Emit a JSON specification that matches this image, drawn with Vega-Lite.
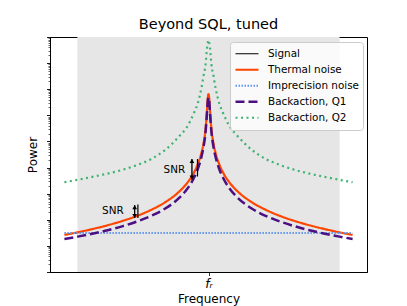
{
  "$schema": "https://vega.github.io/schema/vega-lite/v6.json",
  "width": 317,
  "height": 235,
  "autosize": "none",
  "padding": {"left": 50, "top": 37, "right": 40, "bottom": 34},
  "background": "white",
  "title": {"text": "Beyond SQL, tuned", "fontSize": 14.5, "font": "DejaVu Sans", "fontWeight": "normal", "offset": 4, "color": "black"},
  "config": {
    "view": {"stroke": "black", "strokeWidth": 1},
    "font": "DejaVu Sans",
    "axis": {"grid": false, "domainColor": "black", "domainWidth": 1, "tickColor": "black", "labelColor": "black", "titleColor": "black", "titleFontWeight": "normal", "titleFontSize": 12, "titleFont": "DejaVu Sans", "labelFont": "DejaVu Sans"}
  },
  "datasets": {
    "curves": [
      {"f": -1, "P": 26.2, "series": "Thermal noise"},
      {"f": -0.9, "P": 33.8, "series": "Thermal noise"},
      {"f": -0.8, "P": 44.9, "series": "Thermal noise"},
      {"f": -0.7, "P": 61.8, "series": "Thermal noise"},
      {"f": -0.6, "P": 89.3, "series": "Thermal noise"},
      {"f": -0.5, "P": 138, "series": "Thermal noise"},
      {"f": -0.4, "P": 237, "series": "Thermal noise"},
      {"f": -0.3, "P": 472, "series": "Thermal noise"},
      {"f": -0.2, "P": 1250, "series": "Thermal noise"},
      {"f": -0.15, "P": 2490, "series": "Thermal noise"},
      {"f": -0.1, "P": 6590, "series": "Thermal noise"},
      {"f": -0.075, "P": 13150, "series": "Thermal noise"},
      {"f": -0.05, "P": 34750, "series": "Thermal noise"},
      {"f": -0.035, "P": 81850, "series": "Thermal noise"},
      {"f": -0.02, "P": 314100, "series": "Thermal noise"},
      {"f": -0.01, "P": 1656000, "series": "Thermal noise"},
      {"f": -0.005, "P": 4467000, "series": "Thermal noise"},
      {"f": 0, "P": 6457000, "series": "Thermal noise"},
      {"f": 0.005, "P": 4467000, "series": "Thermal noise"},
      {"f": 0.01, "P": 1656000, "series": "Thermal noise"},
      {"f": 0.02, "P": 314100, "series": "Thermal noise"},
      {"f": 0.035, "P": 81850, "series": "Thermal noise"},
      {"f": 0.05, "P": 34750, "series": "Thermal noise"},
      {"f": 0.075, "P": 13150, "series": "Thermal noise"},
      {"f": 0.1, "P": 6590, "series": "Thermal noise"},
      {"f": 0.15, "P": 2490, "series": "Thermal noise"},
      {"f": 0.2, "P": 1250, "series": "Thermal noise"},
      {"f": 0.3, "P": 472, "series": "Thermal noise"},
      {"f": 0.4, "P": 237, "series": "Thermal noise"},
      {"f": 0.5, "P": 138, "series": "Thermal noise"},
      {"f": 0.6, "P": 89.3, "series": "Thermal noise"},
      {"f": 0.7, "P": 61.8, "series": "Thermal noise"},
      {"f": 0.8, "P": 44.9, "series": "Thermal noise"},
      {"f": 0.9, "P": 33.8, "series": "Thermal noise"},
      {"f": 1, "P": 26.2, "series": "Thermal noise"},
      {"f": -1, "P": 31.3, "series": "Imprecision noise"},
      {"f": 1, "P": 31.3, "series": "Imprecision noise"},
      {"f": -1, "P": 18.45, "series": "Backaction, Q1"},
      {"f": -0.9, "P": 23.1, "series": "Backaction, Q1"},
      {"f": -0.8, "P": 29.9, "series": "Backaction, Q1"},
      {"f": -0.7, "P": 39.7, "series": "Backaction, Q1"},
      {"f": -0.6, "P": 56.0, "series": "Backaction, Q1"},
      {"f": -0.5, "P": 84.3, "series": "Backaction, Q1"},
      {"f": -0.4, "P": 139.3, "series": "Backaction, Q1"},
      {"f": -0.3, "P": 270, "series": "Backaction, Q1"},
      {"f": -0.2, "P": 716, "series": "Backaction, Q1"},
      {"f": -0.15, "P": 1466, "series": "Backaction, Q1"},
      {"f": -0.1, "P": 4130, "series": "Backaction, Q1"},
      {"f": -0.075, "P": 8610, "series": "Backaction, Q1"},
      {"f": -0.05, "P": 24430, "series": "Backaction, Q1"},
      {"f": -0.035, "P": 60120, "series": "Backaction, Q1"},
      {"f": -0.02, "P": 241000, "series": "Backaction, Q1"},
      {"f": -0.01, "P": 1327000, "series": "Backaction, Q1"},
      {"f": -0.005, "P": 3548000, "series": "Backaction, Q1"},
      {"f": 0, "P": 4786000, "series": "Backaction, Q1"},
      {"f": 0.005, "P": 3548000, "series": "Backaction, Q1"},
      {"f": 0.01, "P": 1327000, "series": "Backaction, Q1"},
      {"f": 0.02, "P": 241000, "series": "Backaction, Q1"},
      {"f": 0.035, "P": 60120, "series": "Backaction, Q1"},
      {"f": 0.05, "P": 24430, "series": "Backaction, Q1"},
      {"f": 0.075, "P": 8610, "series": "Backaction, Q1"},
      {"f": 0.1, "P": 4130, "series": "Backaction, Q1"},
      {"f": 0.15, "P": 1466, "series": "Backaction, Q1"},
      {"f": 0.2, "P": 716, "series": "Backaction, Q1"},
      {"f": 0.3, "P": 270, "series": "Backaction, Q1"},
      {"f": 0.4, "P": 139.3, "series": "Backaction, Q1"},
      {"f": 0.5, "P": 84.3, "series": "Backaction, Q1"},
      {"f": 0.6, "P": 56.0, "series": "Backaction, Q1"},
      {"f": 0.7, "P": 39.7, "series": "Backaction, Q1"},
      {"f": 0.8, "P": 29.9, "series": "Backaction, Q1"},
      {"f": 0.9, "P": 23.1, "series": "Backaction, Q1"},
      {"f": 1, "P": 18.45, "series": "Backaction, Q1"},
      {"f": -1, "P": 2735, "series": "Backaction, Q2"},
      {"f": -0.9, "P": 3467, "series": "Backaction, Q2"},
      {"f": -0.8, "P": 4467, "series": "Backaction, Q2"},
      {"f": -0.7, "P": 5888, "series": "Backaction, Q2"},
      {"f": -0.6, "P": 8128, "series": "Backaction, Q2"},
      {"f": -0.5, "P": 12300, "series": "Backaction, Q2"},
      {"f": -0.4, "P": 20890, "series": "Backaction, Q2"},
      {"f": -0.3, "P": 47860, "series": "Backaction, Q2"},
      {"f": -0.2, "P": 165960, "series": "Backaction, Q2"},
      {"f": -0.15, "P": 354800, "series": "Backaction, Q2"},
      {"f": -0.1, "P": 1259000, "series": "Backaction, Q2"},
      {"f": -0.075, "P": 2818000, "series": "Backaction, Q2"},
      {"f": -0.05, "P": 10470000, "series": "Backaction, Q2"},
      {"f": -0.035, "P": 31620000, "series": "Backaction, Q2"},
      {"f": -0.02, "P": 91200000, "series": "Backaction, Q2"},
      {"f": -0.01, "P": 398100000, "series": "Backaction, Q2"},
      {"f": -0.005, "P": 602600000, "series": "Backaction, Q2"},
      {"f": 0, "P": 758600000, "series": "Backaction, Q2"},
      {"f": 0.005, "P": 602600000, "series": "Backaction, Q2"},
      {"f": 0.01, "P": 398100000, "series": "Backaction, Q2"},
      {"f": 0.02, "P": 91200000, "series": "Backaction, Q2"},
      {"f": 0.035, "P": 31620000, "series": "Backaction, Q2"},
      {"f": 0.05, "P": 10470000, "series": "Backaction, Q2"},
      {"f": 0.075, "P": 2818000, "series": "Backaction, Q2"},
      {"f": 0.1, "P": 1259000, "series": "Backaction, Q2"},
      {"f": 0.15, "P": 354800, "series": "Backaction, Q2"},
      {"f": 0.2, "P": 165960, "series": "Backaction, Q2"},
      {"f": 0.3, "P": 47860, "series": "Backaction, Q2"},
      {"f": 0.4, "P": 20890, "series": "Backaction, Q2"},
      {"f": 0.5, "P": 12300, "series": "Backaction, Q2"},
      {"f": 0.6, "P": 8128, "series": "Backaction, Q2"},
      {"f": 0.7, "P": 5888, "series": "Backaction, Q2"},
      {"f": 0.8, "P": 4467, "series": "Backaction, Q2"},
      {"f": 0.9, "P": 3467, "series": "Backaction, Q2"},
      {"f": 1, "P": 2735, "series": "Backaction, Q2"}
    ]
  },
  "encoding": {
    "x": {
      "field": "f", "type": "quantitative",
      "scale": {"type": "linear", "domain": [-1.1, 1.1], "nice": false, "zero": false},
      "axis": {"values": [0], "labelExpr": "'fᵣ'", "labelFontStyle": "italic", "labelFontSize": 12.5, "tickSize": 3.5, "tickWidth": 0.8, "labelPadding": 2, "titlePadding": 3, "grid": false},
      "title": "Frequency"
    },
    "y": {
      "field": "P", "type": "quantitative",
      "scale": {"type": "log", "domain": [1, 1000000000], "nice": false},
      "axis": {
        "labels": false,
        "grid": false,
        "values": [1,2,3,4,5,6,7,8,9,10,20,30,40,50,60,70,80,90,100,200,300,400,500,600,700,800,900,1000,2000,3000,4000,5000,6000,7000,8000,9000,10000,20000,30000,40000,50000,60000,70000,80000,90000,100000,200000,300000,400000,500000,600000,700000,800000,900000,1000000,2000000,3000000,4000000,5000000,6000000,7000000,8000000,9000000,10000000,20000000,30000000,40000000,50000000,60000000,70000000,80000000,90000000,100000000,200000000,300000000,400000000,500000000,600000000,700000000,800000000,900000000,1000000000],
        "tickSize": {"condition": {"test": "abs(log(datum.value)/LN10 - round(log(datum.value)/LN10)) < 0.001", "value": 3.5}, "value": 2},
        "tickWidth": {"condition": {"test": "abs(log(datum.value)/LN10 - round(log(datum.value)/LN10)) < 0.001", "value": 0.9}, "value": 0.6},
        "titlePadding": 7
      },
      "title": "Power"
    }
  },
  "layer": [
    {
      "data": {"values": [{"f": -0.91, "f2": 0.91, "P": 1, "P2": 1000000000}]},
      "mark": {"type": "rect", "color": "#e6e6e6"},
      "encoding": {"x2": {"field": "f2"}, "y2": {"field": "P2"}}
    },
    {
      "data": {"name": "curves"},
      "mark": {"type": "line", "interpolate": "monotone", "clip": true},
      "encoding": {
        "color": {
          "field": "series", "type": "nominal",
          "scale": {"domain": ["Signal", "Thermal noise", "Imprecision noise", "Backaction, Q1", "Backaction, Q2"], "range": ["black", "#ff4500", "#6495ed", "#4b0f82", "#3cb371"]},
          "legend": {"orient": "none", "legendX": 180, "legendY": 5, "title": null, "fillColor": "rgba(255,255,255,0.8)", "strokeColor": "#cccccc", "cornerRadius": 3, "padding": 4, "symbolType": "stroke", "symbolSize": 529, "labelFontSize": 10.4, "labelFont": "DejaVu Sans", "labelColor": "black", "clipHeight": 15.5, "rowPadding": 0, "labelOffset": 8, "labelLimit": 200}
        },
        "strokeDash": {
          "field": "series", "type": "nominal",
          "scale": {"domain": ["Signal", "Thermal noise", "Imprecision noise", "Backaction, Q1", "Backaction, Q2"], "range": [[1, 0], [1, 0], [1.5, 1.5], [9, 4], [2, 3.5]]},
          "legend": {"orient": "none", "legendX": 180, "legendY": 5, "title": null, "fillColor": "rgba(255,255,255,0.8)", "strokeColor": "#cccccc", "cornerRadius": 3, "padding": 4, "symbolType": "stroke", "symbolSize": 529, "labelFontSize": 10.4, "labelFont": "DejaVu Sans", "labelColor": "black", "clipHeight": 15.5, "rowPadding": 0, "labelOffset": 8, "labelLimit": 200}
        },
        "strokeWidth": {
          "field": "series", "type": "nominal",
          "scale": {"type": "ordinal", "domain": ["Signal", "Thermal noise", "Imprecision noise", "Backaction, Q1", "Backaction, Q2"], "range": [1.2, 2.2, 2, 2.5, 2.2]},
          "legend": {"orient": "none", "legendX": 180, "legendY": 5, "title": null, "fillColor": "rgba(255,255,255,0.8)", "strokeColor": "#cccccc", "cornerRadius": 3, "padding": 4, "symbolType": "stroke", "symbolSize": 529, "labelFontSize": 10.4, "labelFont": "DejaVu Sans", "labelColor": "black", "clipHeight": 15.5, "rowPadding": 0, "labelOffset": 8, "labelLimit": 200}
        }
      }
    },
    {
      "data": {"values": [
        {"f": -0.49, "P": 382, "P2": 118, "series": "Signal"},
        {"f": -0.0764, "P": 21230, "P2": 4530, "series": "Signal"}
      ]},
      "mark": {"type": "rule", "strokeWidth": 1.2},
      "encoding": {"y2": {"field": "P2"}, "color": {"field": "series", "type": "nominal"}}
    },
    {
      "data": {"values": [
        {"f": -0.5125, "P": 365, "P2": 116},
        {"f": -0.115, "P": 21230, "P2": 3470}
      ]},
      "mark": {"type": "rule", "strokeWidth": 1.3, "color": "black"},
      "encoding": {"y2": {"field": "P2"}}
    },
    {
      "data": {"values": [
        {"f": -0.5125, "P": 305, "dir": "up"},
        {"f": -0.5125, "P": 138.4, "dir": "down"},
        {"f": -0.115, "P": 17780, "dir": "up"},
        {"f": -0.115, "P": 4140, "dir": "down"}
      ]},
      "mark": {"type": "point", "filled": true, "color": "black", "size": 22, "opacity": 1},
      "encoding": {"shape": {"field": "dir", "type": "nominal", "scale": {"domain": ["up", "down"], "range": ["triangle-up", "triangle-down"]}, "legend": null}}
    },
    {
      "data": {"values": [
        {"f": -0.589, "P": 211, "label": "SNR"},
        {"f": -0.162, "P": 8395, "label": "SNR"}
      ]},
      "mark": {"type": "text", "align": "right", "baseline": "middle", "fontSize": 10.4, "font": "DejaVu Sans", "color": "black"},
      "encoding": {"text": {"field": "label"}}
    }
  ]
}
